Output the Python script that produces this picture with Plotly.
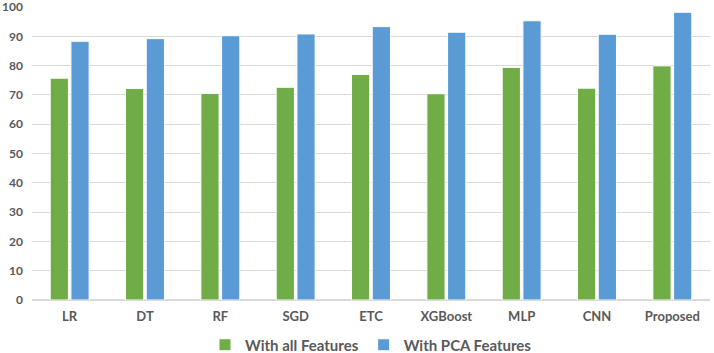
import plotly.graph_objects as go

categories = ["LR", "DT", "RF", "SGD", "ETC", "XGBoost", "MLP", "CNN", "Proposed"]
all_features = [75.7, 72.2, 70.5, 72.6, 77.0, 70.4, 79.4, 72.3, 79.9]
pca_features = [88.3, 89.2, 90.2, 90.8, 93.3, 91.4, 95.3, 90.7, 98.2]
y_ticks = [0, 10, 20, 30, 40, 50, 60, 70, 80, 90, 100]

fig = go.Figure()
fig.add_trace(go.Bar(x=categories, y=all_features, name="With all Features",
                     marker=dict(color="#70AD47", line=dict(color="white", width=1))))
fig.add_trace(go.Bar(x=categories, y=pca_features, name="With PCA Features",
                     marker=dict(color="#5B9BD5", line=dict(color="white", width=1))))

font_family = "Lato, Open Sans, sans-serif"
fig.update_layout(
    width=714, height=353,
    margin=dict(l=32, r=4, t=7, b=53, autoexpand=False),
    paper_bgcolor="white", plot_bgcolor="white",
    barmode="group", bargap=0.45, bargroupgap=0.12,
    font=dict(family=font_family, color="#595959"),
    showlegend=True,
    legend=dict(orientation="h", x=0.5, xanchor="center", xref="paper",
                y=8 / 353, yanchor="middle", yref="container",
                font=dict(size=15, color="#595959", family=font_family, weight="bold"),
                itemwidth=30, traceorder="normal"),
    xaxis=dict(showgrid=False, showline=False, zeroline=False, ticks="",
               tickfont=dict(size=13, color="#595959", weight="bold"), ticklabelstandoff=7),
    yaxis=dict(range=[0, 100], tickvals=y_ticks, showgrid=True, gridcolor="#D9D9D9",
               gridwidth=1, zeroline=True, zerolinecolor="#D9D9D9", showline=False,
               ticks="", tickfont=dict(size=12, color="#595959", weight="bold"),
               ticklabelstandoff=8, ticklabeloverflow="allow"),
)
fig.write_html("out.html")
